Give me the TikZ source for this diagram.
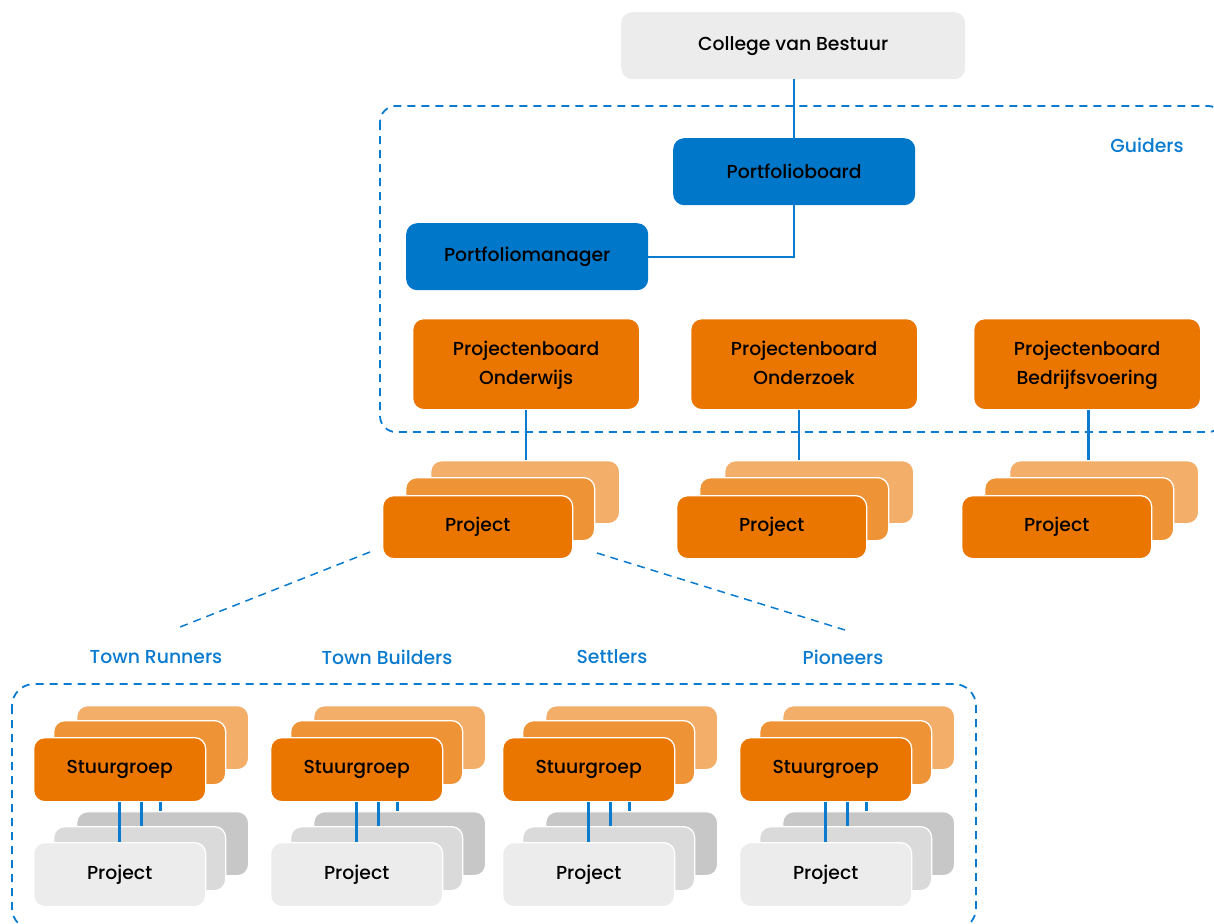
\documentclass[tikz,border=0pt]{standalone}
\usepackage{fontspec}
\setmainfont{Poppins Medium}
\definecolor{uvablue}{HTML}{0077C8}
\definecolor{linkblue}{HTML}{0A7BCF}
\definecolor{orA}{HTML}{EA7600}
\definecolor{orB}{HTML}{EE9436}
\definecolor{orC}{HTML}{F3AE69}
\definecolor{grA}{HTML}{ECECEC}
\definecolor{grB}{HTML}{DADADA}
\definecolor{grC}{HTML}{C7C7C7}
\tikzset{
  box/.style={rounded corners=11pt, inner sep=0pt, align=center, anchor=north west, text=black},
  sz/.style 2 args={minimum width=#1pt, minimum height=#2pt},
  bluebox/.style={box, fill=uvablue},
  greybox/.style={box, fill=#1, draw=white, line width=1.3pt},
  orangebox/.style={box, fill=#1, draw=white, line width=1.3pt},
  link/.style={draw=linkblue, line width=2.4pt},
  grouping/.style={draw=linkblue, line width=1.8pt, dash pattern=on 8pt off 6pt},
  grouplabel/.style={text=linkblue, inner sep=0pt},
}
\begin{document}
\begin{tikzpicture}[x=1pt, y=-1pt, font=\fontsize{18.8}{29}\selectfont]
\useasboundingbox (0,0) rectangle (1214,923);

% group frames
\draw[grouping, rounded corners=16pt] (380,106) rectangle (1224,432);
\draw[grouping, rounded corners=22pt] (12,684) rectangle (976,930);
\node[grouplabel] (guiders) at (1147,145) {Guiders};

% top of the hierarchy
\node[box, fill=grA, sz={344}{67}] (cvb) at (621,12) {College van Bestuur};
\node[bluebox, sz={242}{67}] (pboard) at (673,138) {Portfolioboard};
\node[bluebox, sz={242}{67}] (pman) at (406,223) {Portfoliomanager};

% project boards (struts give every two-line label the same vertical placement)
\node[orangebox=orA, sz={227}{91}] (pbO) at (412,318) {Projectenboard\strut\\Onderwijs\strut};
\node[orangebox=orA, sz={227}{91}] (pbZ) at (690,318) {Projectenboard\strut\\Onderzoek\strut};
\node[orangebox=orA, sz={227}{91}] (pbB) at (973,318) {Projectenboard\strut\\Bedrijfsvoering\strut};

% project stacks below each board
\foreach \x/\n in {382/O, 676/Z, 961/B}{
  \node[orangebox=orC, sz={189}{63}] (pj\n3) at (\x+48,460) {};
  \node[orangebox=orB, sz={189}{63}] (pj\n2) at (\x+23,477) {};
  \node[orangebox=orA, sz={190}{63}] (pj\n1) at (\x,495) {Project};
}

% connectors in the upper part
\draw[link] (pboard.north |- cvb.south) -- (pboard.north);
\draw[link] (pboard.south) |- (pman.east);
\draw[link] (pbO.south) -- (pbO.south |- pjO3.north);
\draw[link] ([xshift=-5pt]pbZ.south) -- ([xshift=-5pt]pbZ.south |- pjZ3.north);
\draw[link] ([xshift=1.5pt]pbB.south) -- ([xshift=1.5pt]pbB.south |- pjB3.north);

% fan-out to the project types
\coordinate (fanLs) at (370,552);
\coordinate (fanRs) at (597,553);
\coordinate (fanL) at (175,629);
\coordinate (fanR) at (845,630);
\draw[grouping, line width=1.5pt] (fanLs) -- (fanL);
\draw[grouping, line width=1.5pt] (fanRs) -- (fanR);

\node[grouplabel] (trun) at (156,657) {Town Runners};
\node[grouplabel] (tbuild) at (387,657) {Town Builders};
\node[grouplabel] (settl) at (612,657) {Settlers};
\node[grouplabel] (pion) at (843,657) {Pioneers};

% steering groups with their projects
\foreach \x/\n in {33/a, 270/b, 502/c, 739/d}{
  \node[orangebox=orC, sz={172}{64}] (sg\n3) at (\x+43,705) {};
  \node[orangebox=orB, sz={172}{64}] (sg\n2) at (\x+20,720) {};
  \node[orangebox=orA, sz={172}{64}] (sg\n1) at (\x,737) {Stuurgroep};
  \node[greybox=grC, sz={172}{64}] (pr\n3) at (\x+43,811) {};
  \node[greybox=grB, sz={172}{64}] (pr\n2) at (\x+20,826) {};
  \node[greybox=grA, sz={172}{64}] (pr\n1) at (\x,842) {Project};
  \draw[link] (sg\n1.south) -- (pr\n1.north);
  \draw[link] ([xshift=22pt]sg\n1.south) -- ([xshift=22pt]sg\n1.south |- pr\n2.north);
  \draw[link] ([xshift=41pt]sg\n1.south) -- ([xshift=41pt]sg\n1.south |- pr\n3.north);
}
\end{tikzpicture}
\end{document}
